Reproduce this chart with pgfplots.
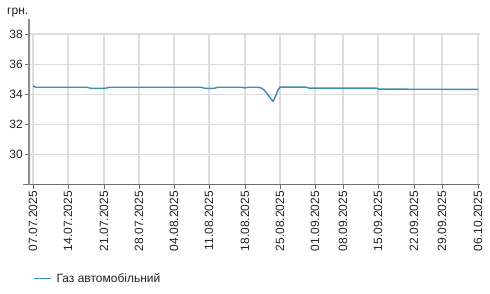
\documentclass[border=0pt]{standalone}
\usepackage{pgfplots}
\pgfplotsset{compat=1.18}
\usepackage{fontspec}
\setmainfont{Liberation Sans}
\definecolor{gasline}{HTML}{3A8FB0}
\definecolor{gridc}{HTML}{DDDDDD}
\definecolor{yaxc}{HTML}{8A8A8A}
\definecolor{xaxc}{HTML}{6E6E6E}
\definecolor{txt}{HTML}{222222}
\begin{document}
\begin{tikzpicture}
\path[use as bounding box] (0,0) rectangle (490pt,294pt);
\begin{axis}[
  at={(29pt,109pt)}, anchor=south west,
  scale only axis, width=451pt, height=151pt,
  xmin=29, xmax=480, ymin=28, ymax=38,
  axis x line=bottom, axis y line=left,
  x axis line style={-, color=xaxc, line width=1pt, shorten <=-6pt},
  y axis line style={-, color=yaxc, line width=2pt, shorten >=-15pt},
  xtick={33,68,104,139,174,209,245,280,315,343,378,414,442,478},
  xticklabels={07.07.2025,14.07.2025,21.07.2025,28.07.2025,04.08.2025,11.08.2025,18.08.2025,25.08.2025,01.09.2025,08.09.2025,15.09.2025,22.09.2025,29.09.2025,06.10.2025},
  ytick={30,32,34,36,38},
  tick align=outside,
  major tick length=4pt,
  tick style={color=xaxc, line width=0.8pt},
  grid=major,
  grid style={color=gridc, line width=1.2pt},
  /pgf/number format/assume math mode=true,
  tick label style={font=\fontsize{12}{14}\selectfont, text=txt},
  x tick label style={rotate=90, anchor=east, inner sep=2pt},
  y tick label style={inner sep=2pt},
  ylabel={грн.},
  ylabel style={rotate=-90, at={(axis description cs:0,1)}, anchor=base west, xshift=-22pt, yshift=19pt, font=\fontsize{12}{14}\selectfont, text=txt, inner sep=0pt},
  legend style={draw=none, fill=none, at={(axis description cs:0.0089,-0.62)}, anchor=west, inner sep=0pt, font=\fontsize{12}{14}\selectfont, text=txt},
  legend cell align=left,
  legend image code/.code={\draw[#1] (0pt,0pt) -- (17pt,0pt); \path (20pt,0pt);},
]
\addplot[color=gasline, line width=1.4pt, line join=round] coordinates {
(33,34.55) (36,34.47) (87,34.47) (91,34.40) (105,34.40) (109,34.47)
(201,34.47) (205,34.40) (214,34.40) (218,34.47) (242,34.47) (245,34.43)
(248,34.47) (258,34.47) (261,34.43) (264,34.30) (267,34.05) (270,33.80)
(273,33.53) (276,33.95) (278,34.30) (280,34.48) (306,34.48) (309,34.42)
(376,34.42) (379,34.35) (478,34.33)
};
\addlegendentry{Газ автомобільний}
\end{axis}
\end{tikzpicture}
\end{document}
